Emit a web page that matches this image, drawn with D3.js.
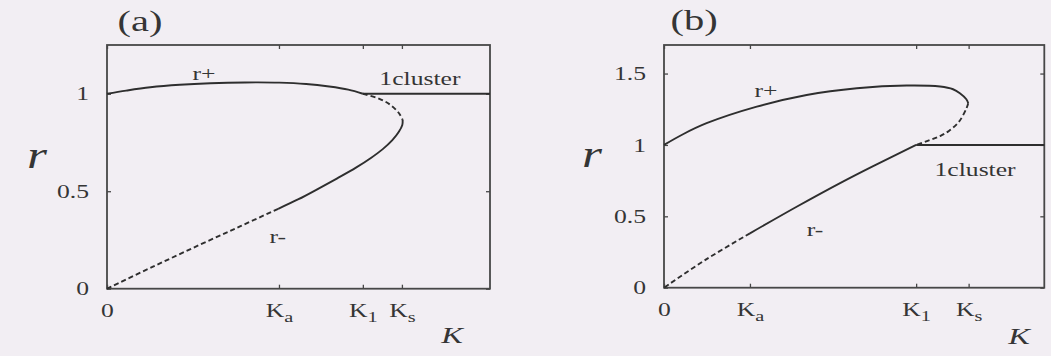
<!DOCTYPE html>
<html>
<head>
<meta charset="utf-8">
<script src="https://cdn.jsdelivr.net/npm/d3@7"></script>
<style>
  html, body { margin: 0; padding: 0; background: #f2eef3; }
  svg { display: block; }
</style>
</head>
<body>
<svg id="fig" width="1051" height="356"></svg>
<script>
// K is measured in units of the full plotted K range (0..1).

// ---- panel (a) ----
const kTicksA = [0, 0.449, 0.668, 0.770];
const rTicksA = [0, 0.5, 1];
const rTickLabelsA = ["0", "0.5", "1"];
const rPlusA = [[0, 1.0], [0.05, 1.016], [0.113, 1.033], [0.19, 1.046], [0.27, 1.054], [0.36, 1.058],
                [0.45, 1.057], [0.52, 1.05], [0.58, 1.037], [0.63, 1.021], [0.668, 1.0]];
const rPlusUnstableA = [[0.668, 1.0], [0.71, 0.975], [0.74, 0.943], [0.762, 0.901], [0.772, 0.866]];
const rMinusA = [[0.772, 0.866], [0.771, 0.84], [0.762, 0.805], [0.745, 0.762], [0.72, 0.716], [0.69, 0.672],
                 [0.65, 0.621], [0.6, 0.565], [0.55, 0.511], [0.5, 0.459], [0.447, 0.41]];
const rMinusUnstableA = [[0.447, 0.41], [0.35, 0.322], [0.243, 0.226], [0.12, 0.113], [0, 0]];
const oneClusterA = [[0.668, 1], [1, 1]];

// ---- panel (b) ----
const kTicksB = [0, 0.226, 0.663, 0.801];
const rTicksB = [0, 0.5, 1, 1.5];
const rTickLabelsB = ["0", "0.5", "1", "1.5"];
const rPlusB = [[0, 1.0], [0.05, 1.075], [0.112, 1.152], [0.244, 1.268], [0.375, 1.35], [0.507, 1.397],
                [0.638, 1.416], [0.726, 1.409], [0.76, 1.39], [0.778, 1.362], [0.795, 1.32], [0.80, 1.292]];
const rPlusUnstableB = [[0.80, 1.292], [0.795, 1.254], [0.775, 1.16], [0.75, 1.1], [0.726, 1.062],
                        [0.695, 1.03], [0.663, 1.0]];
const rMinusB = [[0.663, 1.0], [0.55, 0.852], [0.463, 0.733], [0.35, 0.569], [0.226, 0.381]];
const rMinusUnstableB = [[0.226, 0.381], [0.112, 0.2], [0, 0]];
const oneClusterB = [[0.663, 1], [1, 1]];

// shared tick labels on the K axis: [main, subscript]
const kTickLabels = [["0", ""], ["K", "a"], ["K", "1"], ["K", "s"]];

const SERIF = "'Liberation Serif', 'Times New Roman', Times, serif";
const INK = "#353535";
const FRAME = "#474747";
const SX = 1.35; // horizontal widening of the lettering

const svg = d3.select("#fig");

function widen(sel) {
  sel.each(function () {
    const t = d3.select(this);
    const x = +(t.attr("x") || 0);
    t.attr("x", x / SX).attr("transform", `scale(${SX},1)`);
  });
}

function label(g, px, py, str, size, italic) {
  g.append("text")
    .attr("transform", `translate(${px},${py}) scale(${SX},1)`)
    .attr("text-anchor", "middle")
    .attr("font-family", SERIF)
    .attr("font-size", size)
    .attr("font-style", italic ? "italic" : "normal")
    .attr("fill", INK)
    .text(str);
}

function panel(p) {
  const x = d3.scaleLinear().domain([0, 1]).range([p.x0, p.x1]);
  const y = d3.scaleLinear().domain([0, p.rMax]).range([p.y0, p.y1]);
  const g = svg.append("g");

  const styleAxis = a => a.attr("color", FRAME).attr("font-family", SERIF).attr("font-size", 19)
    .call(s => s.select(".domain").remove())
    .call(s => s.selectAll(".tick line").attr("stroke-width", 1.3))
    .call(s => s.selectAll(".tick text").attr("fill", INK));

  // bottom axis with K labels
  const bottom = g.append("g").attr("transform", `translate(0,${p.y0})`)
    .call(d3.axisBottom(x).tickValues(p.kTicks).tickSizeInner(-4).tickSizeOuter(0)
      .tickPadding(15).tickFormat(() => ""))
    .call(styleAxis);
  bottom.selectAll(".tick text").each(function (d, i) {
    const t = d3.select(this);
    t.append("tspan").text(kTickLabels[i][0]);
    if (kTickLabels[i][1]) {
      t.append("tspan").attr("font-size", 15).attr("dy", 5).text(kTickLabels[i][1]);
    }
  }).call(widen);

  // top axis: ticks only
  g.append("g").attr("transform", `translate(0,${p.y1})`)
    .call(d3.axisTop(x).tickValues(p.kTicks).tickSizeInner(-4).tickSizeOuter(0).tickFormat(() => ""))
    .call(styleAxis);

  // left axis with r labels
  g.append("g").attr("transform", `translate(${p.x0},0)`)
    .call(d3.axisLeft(y).tickValues(p.rTicks).tickSizeInner(-4).tickSizeOuter(0)
      .tickPadding(18).tickFormat((d, i) => p.rLabels[i]))
    .call(styleAxis)
    .call(s => s.selectAll(".tick text").call(widen));

  // right axis: ticks only
  g.append("g").attr("transform", `translate(${p.x1},0)`)
    .call(d3.axisRight(y).tickValues(p.rTicks).tickSizeInner(-4).tickSizeOuter(0).tickFormat(() => ""))
    .call(styleAxis);

  // frame
  g.append("rect")
    .attr("x", p.x0).attr("y", p.y1)
    .attr("width", p.x1 - p.x0).attr("height", p.y0 - p.y1)
    .attr("fill", "none").attr("stroke", FRAME).attr("stroke-width", 1.8);

  // branches
  const line = d3.line().x(d => x(d[0])).y(d => y(d[1])).curve(d3.curveCatmullRom.alpha(0.5));
  const draw = (data, dashed) => g.append("path").datum(data)
    .attr("d", line).attr("fill", "none").attr("stroke", "#2e2e2e")
    .attr("stroke-width", 1.9).attr("stroke-linecap", "butt")
    .attr("stroke-dasharray", dashed ? "5,3" : null);

  draw(p.rPlus, false);
  draw(p.rPlusUnstable, true);
  draw(p.rMinus, false);
  draw(p.rMinusUnstable, true);
  draw(p.oneCluster, false);

  // annotations placed in data coordinates
  p.notes.forEach(n => label(g, x(n.k), y(n.r), n.text, 19, false));

  // axis titles and panel tag
  label(g, p.rTitle[0], p.rTitle[1], "r", 38, true);
  label(g, p.kTitle[0], p.kTitle[1], "K", 24, true);
  label(g, p.tag[0], p.tag[1], p.tagText, 30, false);
}

panel({
  x0: 107, x1: 490, y0: 288.7, y1: 45, rMax: 1.25,
  kTicks: kTicksA, rTicks: rTicksA, rLabels: rTickLabelsA,
  rPlus: rPlusA, rPlusUnstable: rPlusUnstableA, rMinus: rMinusA,
  rMinusUnstable: rMinusUnstableA, oneCluster: oneClusterA,
  notes: [
    { k: 0.253, r: 1.072, text: "r+" },
    { k: 0.817, r: 1.046, text: "1cluster" },
    { k: 0.446, r: 0.235, text: "r-" }
  ],
  rTitle: [37, 168], kTitle: [452, 343], tag: [140, 31], tagText: "(a)"
});

panel({
  x0: 664, x1: 1044.3, y0: 287.7, y1: 45, rMax: 1.70,
  kTicks: kTicksB, rTicks: rTicksB, rLabels: rTickLabelsB,
  rPlus: rPlusB, rPlusUnstable: rPlusUnstableB, rMinus: rMinusB,
  rMinusUnstable: rMinusUnstableB, oneCluster: oneClusterB,
  notes: [
    { k: 0.268, r: 1.336, text: "r+" },
    { k: 0.818, r: 0.783, text: "1cluster" },
    { k: 0.397, r: 0.362, text: "r-" }
  ],
  rTitle: [592, 167], kTitle: [1019, 344], tag: [694, 30], tagText: "(b)"
});
</script>
</body>
</html>
